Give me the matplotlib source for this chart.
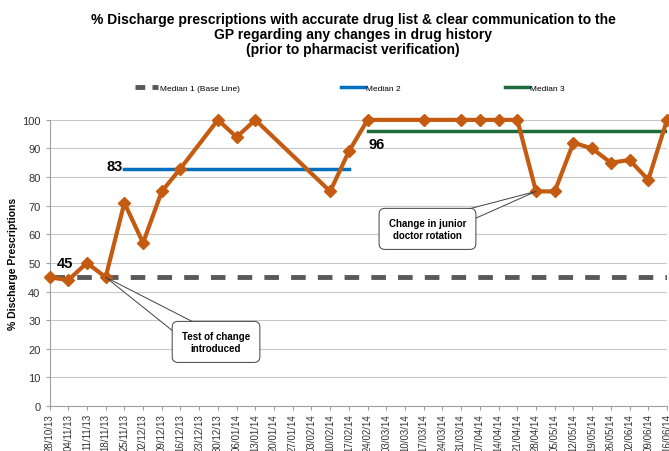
import matplotlib.pyplot as plt
from matplotlib.lines import Line2D

plt.rcParams['font.family'] = ['Liberation Sans', 'DejaVu Sans']

weeks = ['28/10/13', '04/11/13', '11/11/13', '18/11/13', '25/11/13', '02/12/13',
         '09/12/13', '16/12/13', '23/12/13', '30/12/13', '06/01/14', '13/01/14',
         '20/01/14', '27/01/14', '03/02/14', '10/02/14', '17/02/14', '24/02/14',
         '03/03/14', '10/03/14', '17/03/14', '24/03/14', '31/03/14', '07/04/14',
         '14/04/14', '21/04/14', '28/04/14', '05/05/14', '12/05/14', '19/05/14',
         '26/05/14', '02/06/14', '09/06/14', '16/06/14']

# weekly % (None = no audit that week)
pct = [45, 44, 50, 45, 71, 57, 75, 83, None, 100, 94, 100, None, None, None, 75, 89, 100,
       None, None, 100, None, 100, 100, 100, 100, 75, 75, 92, 90, 85, 86, 79, 100]

median1 = 45
median2 = 83
median3 = 96
median1_span = (0, 33)
median2_span = (4, 16)
median3_span = (17, 33)

xs = [i for i, v in enumerate(pct) if v is not None]
ys = [v for v in pct if v is not None]

fig = plt.figure(figsize=(6.69, 4.52), dpi=100)
ax = fig.add_axes([0.074, 0.0996, 0.923, 0.633])

ax.plot(median1_span, [median1] * 2, color='#595959', lw=3.5, dashes=(3, 2.5), zorder=2)
ax.plot(median2_span, [median2] * 2, color='#0070C0', lw=2.5, zorder=2)
ax.plot(median3_span, [median3] * 2, color='#1E6B3C', lw=2.5, zorder=2)
ax.plot(xs, ys, color='#C55A11', lw=3, marker='D', ms=6, zorder=3, clip_on=False)

ax.text(0.8, 47.5, str(median1), fontsize=10.5, fontweight='bold', ha='center', va='bottom')
ax.text(3.9, median2 + 1, str(median2), fontsize=10.5, fontweight='bold', ha='right', va='center')
ax.text(17.5, median3 - 2, str(median3), fontsize=10.5, fontweight='bold', ha='center', va='top')

# callout boxes: wedge starts inside the box so only the tapered part shows
box = dict(boxstyle='round,pad=1.0,rounding_size=0.6', fc='white', ec='#404040', lw=0.7)


def callout(relpos, width):
    return dict(arrowstyle=f'wedge,tail_width={width},shrink_factor=0.5', fc='white', ec='#404040',
                lw=0.7, shrinkA=0, shrinkB=0, patchA=None, relpos=relpos)


ax.annotate('Test of change\nintroduced', xy=(3, 45), xytext=(8.9, 22.4),
            fontsize=7, fontweight='bold', ha='center', va='center',
            bbox=box, arrowprops=callout((0.3, 0.6), 2.4), zorder=5)
ax.annotate('Change in junior\ndoctor rotation', xy=(26, 75), xytext=(20.2, 61.9),
            fontsize=7, fontweight='bold', ha='center', va='center',
            bbox=box, arrowprops=callout((0.6, 0.6), 1.8), zorder=5)

ax.set_xlim(0, 33)
ax.set_ylim(0, 100)
ax.set_yticks(range(0, 101, 10))
ax.set_xticks(range(len(weeks)))
ax.set_xticklabels(weeks, rotation=90, fontsize=7, color='#333333')
ax.tick_params(axis='y', labelsize=8, labelcolor='#333333', length=3, color='#A0A0A0')
ax.tick_params(axis='x', length=3, color='#A0A0A0', pad=2)
ax.grid(axis='y', color='#C8C8C8', lw=0.8)
ax.set_axisbelow(True)
for side in ['top', 'right']:
    ax.spines[side].set_visible(False)
for side in ['left', 'bottom']:
    ax.spines[side].set_color('#A0A0A0')
ax.set_ylabel('% Discharge Prescriptions', fontsize=7.5, fontweight='bold', labelpad=3)

fig.text(0.528, 0.972, '% Discharge prescriptions with accurate drug list & clear communication to the\n'
         'GP regarding any changes in drug history\n(prior to pharmacist verification)',
         ha='center', va='top', fontsize=10, fontweight='bold', linespacing=1.1)

entries = [
    (Line2D([], [], color='#595959', lw=3.5, dashes=(2, 1.5)), 'Median 1 (Base Line)', 0.28),
    (Line2D([], [], color='#0070C0', lw=2.5), 'Median 2', 0.555),
    (Line2D([], [], color='#1E6B3C', lw=2.5), 'Median 3', 0.8),
]
for handle, label, xpos in entries:
    fig.legend([handle], [label], loc='center', bbox_to_anchor=(xpos, 0.803), frameon=False,
               fontsize=6, handlelength=2.8, handletextpad=0.2)

fig.savefig('out.png', dpi=100)
